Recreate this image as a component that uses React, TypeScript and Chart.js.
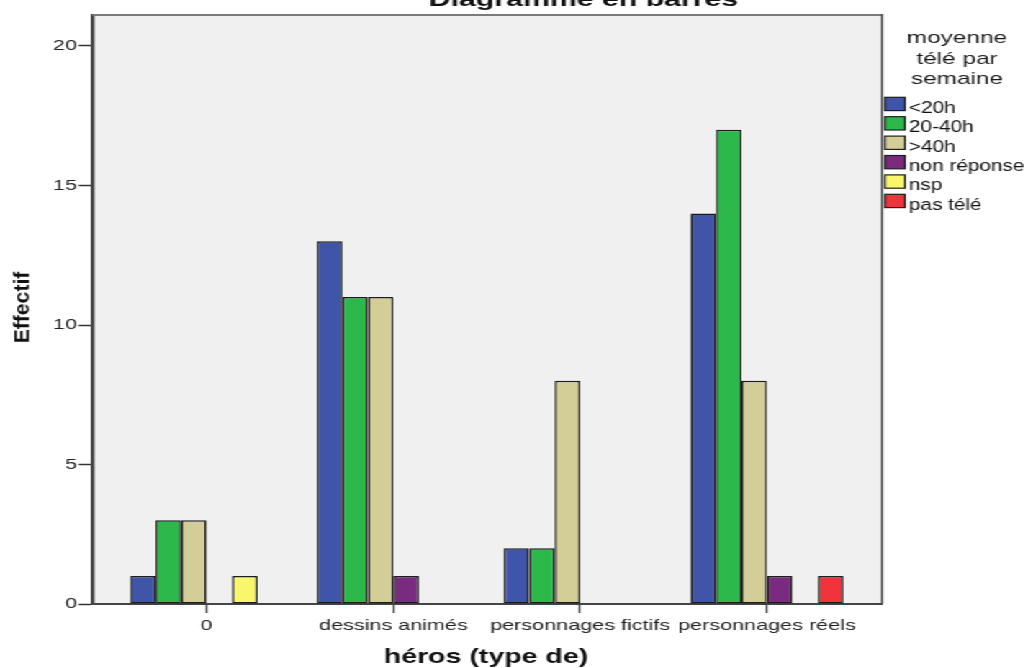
import React, { useEffect, useRef } from 'react';
import { Chart, registerables } from 'chart.js';

Chart.register(...registerables);

// ---------- data ----------
const categories = ['0', 'dessins animés', 'personnages fictifs', 'personnages réels'];
const seriesLabels = ['<20h', '20-40h', '>40h', 'non réponse', 'nsp', 'pas télé'];
const lt20h = [1, 13, 2, 14];
const h20to40 = [3, 11, 2, 17];
const gt40h = [3, 11, 8, 8];
const nonReponse = [0, 1, 0, 1];
const nsp = [1, 0, 0, 0];
const pasTele = [0, 0, 0, 1];
const yTicks = [0, 5, 10, 15, 20];
const legendTitleLines = ['moyenne', 'télé par', 'semaine'];
const chartTitle = 'Diagramme en barres';
const xTitle = 'héros (type de)';
const yTitle = 'Effectif';

// ---------- styling / layout ----------
const seriesValues = [lt20h, h20to40, gt40h, nonReponse, nsp, pasTele];
const seriesColors = ['#3e55a9', '#2db84b', '#d3ce97', '#7a2a7f', '#f9f66b', '#f1333b'];

const W = 714;
const H = 668;
const S = 1028 / W; // horizontal stretch of the whole picture
const rx = (x: number) => x / S;

const PLOT_LEFT = 92.5;
const PLOT_RIGHT = 882;
const PLOT_TOP = 15;
const PLOT_BOTTOM = 604;
const FONT = '"Liberation Sans", Arial, sans-serif';

function fitText(
  ctx: CanvasRenderingContext2D,
  text: string,
  x: number,
  y: number,
  font: string,
  refWidth: number,
  align: CanvasTextAlign,
  color: string
) {
  ctx.save();
  ctx.font = font;
  ctx.textAlign = align;
  ctx.textBaseline = 'alphabetic';
  const m = ctx.measureText(text);
  const w = m.actualBoundingBoxLeft + m.actualBoundingBoxRight;
  const k = rx(refWidth) / w;
  ctx.translate(x, y);
  ctx.scale(k, 1);
  ctx.fillStyle = color;
  ctx.fillText(text, 0, 0);
  ctx.restore();
}

const decor = {
  id: 'decor',
  beforeDraw(chart: any) {
    const { ctx, chartArea: a } = chart;
    ctx.save();
    ctx.fillStyle = '#f0f0f0';
    ctx.fillRect(a.left, a.top, a.right - a.left, a.bottom - a.top);
    ctx.restore();
  },
  afterDraw(chart: any) {
    const { ctx, chartArea: a } = chart;
    ctx.save();
    // top & right frame
    ctx.strokeStyle = '#7c7c7c';
    ctx.lineWidth = 2;
    ctx.beginPath();
    ctx.moveTo(a.left, a.top);
    ctx.lineTo(a.right, a.top);
    ctx.stroke();
    ctx.strokeStyle = '#4a4a4a';
    ctx.lineWidth = 1.4;
    ctx.beginPath();
    ctx.moveTo(a.right, a.top - 1);
    ctx.lineTo(a.right, a.bottom);
    ctx.stroke();
    ctx.restore();

    // chart title (clipped at top)
    fitText(ctx, chartTitle, rx(583.5), 6, `bold 21px ${FONT}`, 307, 'center', '#111');

    // x axis title
    fitText(ctx, xTitle, rx(486), 663, `bold 20.5px ${FONT}`, 202, 'center', '#111');

    // y axis title (rotated)
    ctx.save();
    ctx.font = `bold 15px ${FONT}`;
    ctx.textAlign = 'center';
    ctx.textBaseline = 'alphabetic';
    const m = ctx.measureText(yTitle);
    const k = 71.7 / (m.actualBoundingBoxLeft + m.actualBoundingBoxRight);
    ctx.translate(rx(29.5), 307.5);
    ctx.rotate(-Math.PI / 2);
    ctx.scale(k, 1);
    ctx.fillStyle = '#111';
    ctx.fillText(yTitle, 0, 0);
    ctx.restore();

    // legend title
    ctx.save();
    ctx.font = `17px ${FONT}`;
    ctx.textAlign = 'center';
    const m0 = ctx.measureText(legendTitleLines[0]);
    const kt = rx(98.3) / (m0.actualBoundingBoxLeft + m0.actualBoundingBoxRight);
    const baselines = [43.3, 63.6, 84];
    legendTitleLines.forEach((line, i) => {
      ctx.save();
      ctx.translate(rx(957), baselines[i]);
      ctx.scale(kt, 1);
      ctx.fillStyle = '#1a1a1a';
      ctx.fillText(line, 0, 0);
      ctx.restore();
    });
    ctx.restore();

    // legend items
    ctx.save();
    ctx.font = `16.3px ${FONT}`;
    ctx.textAlign = 'left';
    const mr = ctx.measureText('non réponse');
    const ki = rx(114) / (mr.actualBoundingBoxLeft + mr.actualBoundingBoxRight);
    chart.data.datasets.forEach((ds: any, i: number) => {
      const top = 97.3 + 19.4 * i;
      ctx.fillStyle = ds.backgroundColor;
      ctx.fillRect(rx(885), top, rx(905) - rx(885), 13.3);
      ctx.strokeStyle = '#1e1e1e';
      ctx.lineWidth = 1.2;
      ctx.strokeRect(rx(885), top, rx(905) - rx(885), 13.3);
      ctx.save();
      ctx.translate(rx(909), top + 15.5);
      ctx.scale(ki, 1);
      ctx.fillStyle = '#111';
      ctx.fillText(ds.label, 0, 0);
      ctx.restore();
    });
    ctx.restore();
  },
};

export default function App() {
  const ref = useRef<HTMLCanvasElement>(null);

  useEffect(() => {
    const datasets = seriesLabels.map((label, si) => ({
      label,
      data: categories.map((_, ci) => ({
        x: ci,
        y: seriesValues[si][ci] === 0 ? null : seriesValues[si][ci],
      })),
      backgroundColor: seriesColors[si],
      borderColor: '#1c1c1c',
      borderWidth: 1.5,
      borderSkipped: false as const,
      categoryPercentage: 0.819,
      barPercentage: 1,
    }));

    const chart = new Chart(ref.current as HTMLCanvasElement, {
      type: 'bar',
      data: { datasets: datasets as any },
      options: {
        responsive: false,
        maintainAspectRatio: false,
        animation: false,
        devicePixelRatio: 1,
        layout: {
          padding: { top: PLOT_TOP, right: W - rx(PLOT_RIGHT), left: 0, bottom: 0 },
        },
        plugins: {
          legend: { display: false },
          title: { display: false },
          tooltip: { enabled: false },
        },
        scales: {
          x: {
            type: 'linear',
            min: -0.611,
            max: 3.616,
            offset: false,
            afterBuildTicks: (s: any) => {
              s.ticks = categories.map((_, i) => ({ value: i }));
            },
            afterFit: (s: any) => {
              s.height = H - PLOT_BOTTOM;
            },
            grid: {
              display: true,
              offset: false,
              drawOnChartArea: false,
              drawTicks: true,
              tickLength: 9,
              tickWidth: 1.3,
              tickColor: '#333',
              color: '#333',
            },
            border: { display: true, color: '#454545', width: 2 },
            ticks: {
              autoSkip: false,
              maxRotation: 0,
              minRotation: 0,
              padding: 4,
              color: '#222',
              font: { family: FONT, size: 15 },
              callback: (v: any) => categories[v as number] ?? '',
            },
          } as any,
          y: {
            type: 'linear',
            min: 0,
            max: (PLOT_BOTTOM - PLOT_TOP) / 27.9,
            afterBuildTicks: (s: any) => {
              s.ticks = yTicks.map((v) => ({ value: v }));
            },
            afterFit: (s: any) => {
              s.width = rx(PLOT_LEFT);
            },
            grid: {
              display: true,
              drawOnChartArea: false,
              drawTicks: true,
              tickLength: rx(14),
              tickWidth: 1.5,
              tickColor: '#333',
              color: '#333',
            },
            border: { display: true, color: '#454545', width: 2.6 },
            ticks: {
              padding: 1,
              color: '#222',
              font: { family: FONT, size: 15 },
            },
          } as any,
        },
      },
      plugins: [decor],
    });
    return () => chart.destroy();
  }, []);

  return (
    <div
      style={{
        position: 'absolute',
        left: 0,
        top: 0,
        width: W,
        height: H,
        transform: `scaleX(${S})`,
        transformOrigin: '0 0',
        background: '#fff',
      }}
    >
      <canvas ref={ref} width={W} height={H} style={{ display: 'block', width: W, height: H }} />
    </div>
  );
}
